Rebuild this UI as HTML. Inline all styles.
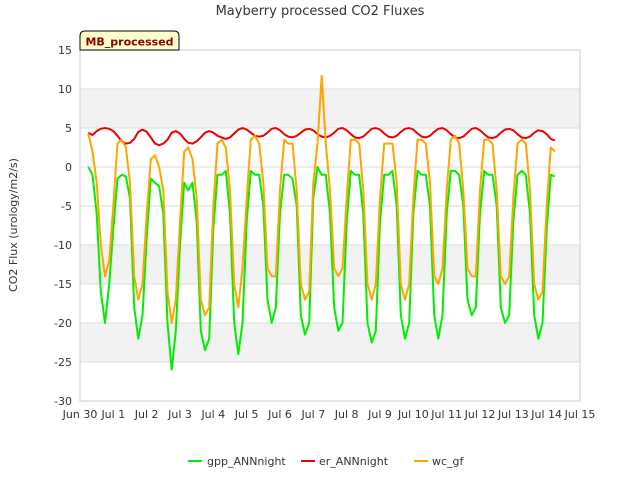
<!DOCTYPE html>
<html><head><meta charset="utf-8"><style>
body{margin:0;background:#fff;font-family:"Liberation Sans","DejaVu Sans",sans-serif}
</style></head><body>
<svg width="640" height="480" xmlns="http://www.w3.org/2000/svg" font-family="DejaVu Sans, Liberation Sans, sans-serif">
<text x="320" y="15" text-anchor="middle" font-size="13" fill="#333">Mayberry processed CO2 Fluxes</text>
<g id="bands"></g>
<g id="grid"></g>
<rect x="80" y="50" width="500" height="351" fill="none" stroke="#ccc"/>
<g id="series"></g>
<g id="ticks" font-size="11" fill="#333"></g>
<text transform="translate(17,225) rotate(-90)" text-anchor="middle" font-size="11" fill="#333">CO2 Flux (urology/m2/s)</text>
<g>
<path d="M80,50 L80,36 Q80,31 85,31 L174,31 Q179,31 179,36 L179,50 Z" fill="#ffffcc" stroke="#000"/>
<text x="129.5" y="45.5" text-anchor="middle" font-size="11" font-weight="bold" fill="#8b0000">MB_processed</text>
</g>
<g font-size="11" fill="#333">
<g><line x1="188" y1="461" x2="202" y2="461" stroke="#00ee00" stroke-width="2"/><text x="207" y="465">gpp_ANNnight</text></g>
<g><line x1="301" y1="461" x2="315" y2="461" stroke="#ee0000" stroke-width="2"/><text x="319" y="465">er_ANNnight</text></g>
<g><line x1="414" y1="461" x2="428" y2="461" stroke="#ffa500" stroke-width="2"/><text x="432" y="465">wc_gf</text></g>
</g>
</svg>
<script>
const xTickLabels=["Jun 30","Jul 1","Jul 2","Jul 3","Jul 4","Jul 5","Jul 6","Jul 7","Jul 8","Jul 9","Jul 10","Jul 11","Jul 12","Jul 13","Jul 14","Jul 15"];
const yTicks=[15,10,5,0,-5,-10,-15,-20,-25,-30];
const startDay=0.25;
const stepDay=0.125;
const gpp=[0,-1,-6,-16,-20,-15,
-8,-1.5,-1,-1.2,-4,-18,-22,-19,
-9,-1.5,-2,-2.5,-6,-20,-26,-21,
-10,-2,-3,-2,-7,-21,-23.5,-22,
-8,-1,-1,-0.5,-6,-20,-24,-20,
-7,-0.5,-1,-1,-5,-17,-20,-18,
-6,-1,-1,-1.5,-5,-19,-21.5,-20,
-4,0,-1,-1,-6,-18,-21,-20,
-7,-0.5,-1,-1,-6,-20,-22.5,-21,
-7,-1,-1,-0.5,-5,-19,-22,-20,
-6,-0.5,-1,-1,-5,-19,-22,-19,
-6,-0.5,-0.5,-1,-5,-17,-19,-18,
-6,-0.5,-1,-1,-5,-18,-20,-19,
-7,-1,-0.5,-1,-6,-19,-22,-20,
-8,-1,-1.2];
const wc=[4.3,2,-2,-10,-14,-12,
-5,3,3.5,2.5,-2,-14,-17,-15,
-6,1,1.5,0,-3,-16,-20,-17,
-7,2,2.5,1,-4,-17,-19,-18,
-5,3,3.5,2.5,-3,-15,-18,-13,
-4,3.5,4,3,-2,-13,-14,-14,
-3,3.5,3,3,-3,-15,-17,-16,
-2,3,11.7,3,-3,-13,-14,-13,
-4,3.5,3.5,3,-3,-15,-17,-15,
-4,3,3,3,-2,-15,-17,-15,
-4,3.5,3.5,3,-2,-14,-15,-13,
-3,3.5,4,3,-3,-13,-14,-14,
-3,3.5,3.5,3,-3,-14,-15,-14,
-4,3,3.5,3,-3,-15,-17,-16,
-5,2.5,2];
const er=[4.4,4.1,4.6,4.9,5.0,4.9,
4.6,4.0,3.3,3.0,3.1,3.6,4.5,4.8,
4.5,3.8,3.0,2.8,3.0,3.5,4.4,4.6,
4.3,3.6,3.1,3.0,3.3,3.8,4.4,4.6,
4.4,4.0,3.8,3.6,3.8,4.3,4.8,5.0,
4.8,4.4,4.0,3.9,4.0,4.4,4.9,5.0,
4.7,4.2,3.9,3.8,4.0,4.4,4.8,4.9,
4.7,4.2,3.9,3.8,4.0,4.4,4.9,5.0,
4.7,4.2,3.8,3.7,3.9,4.4,4.9,5.0,
4.8,4.3,3.9,3.8,4.0,4.5,4.9,5.0,
4.8,4.3,3.9,3.8,4.0,4.5,4.9,5.0,
4.7,4.2,3.8,3.7,3.9,4.4,4.9,5.0,
4.7,4.2,3.8,3.7,3.9,4.4,4.8,4.9,
4.7,4.2,3.8,3.7,3.9,4.4,4.7,4.6,
4.2,3.6,3.4];
const NS="http://www.w3.org/2000/svg";
const xs=d=>80+d*500/15;
const ys=v=>50+(15-v)*351/45;
function mk(tag,attrs,parent){const e=document.createElementNS(NS,tag);for(const k in attrs)e.setAttribute(k,attrs[k]);parent.appendChild(e);return e;}
const bands=document.getElementById('bands'),grid=document.getElementById('grid'),ticks=document.getElementById('ticks'),series=document.getElementById('series');
[[10,5],[-10,-15],[-20,-25]].forEach(b=>{const r=mk('rect',{x:80,y:ys(b[0]),width:500,height:ys(b[1])-ys(b[0]),fill:'#f2f2f2'},bands);

});
yTicks.forEach(v=>{const l=mk('line',{x1:80,x2:580,y1:ys(v),y2:ys(v),stroke:'#ddd'},grid);


const t=mk('text',{x:72,y:ys(v)+4,'text-anchor':'end'},ticks);t.textContent=v;

});
xTickLabels.forEach((s,i)=>{const t=mk('text',{x:xs(i),y:418,'text-anchor':'middle'},ticks);t.textContent=s;

});
function draw(arr,color,name){const pts=arr.map((v,i)=>xs(startDay+i*stepDay).toFixed(1)+','+ys(v).toFixed(1)).join(' ');
const p=mk('polyline',{points:pts,fill:'none',stroke:color,'stroke-width':2,'stroke-linejoin':'round'},series);

}
draw(gpp,'#00ee00','gpp-line');
draw(er,'#ee0000','er-line');
draw(wc,'#ffa500','wc-line');
</script>
</body></html>
